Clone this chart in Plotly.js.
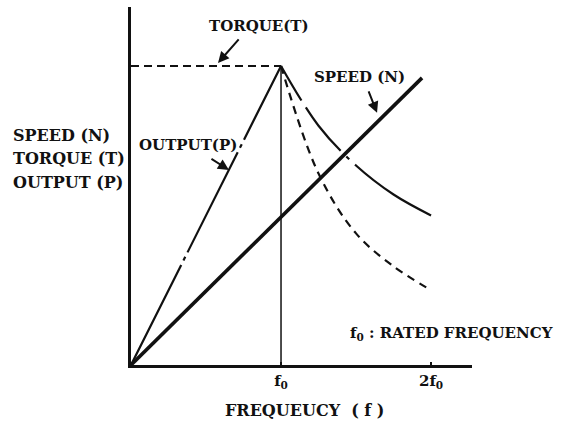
<!DOCTYPE html>
<html>
<head>
<meta charset="utf-8">
<script src="https://cdn.plot.ly/plotly-3.0.1.min.js"></script>
<style>
  html, body { margin: 0; padding: 0; background: #fff; }
  #chart { width: 580px; height: 421px; }
</style>
</head>
<body>
<div id="chart"></div>
<script>
// Frequency in units of the rated frequency f0; quantities normalised to their value at f0.
const riseFreq = [0, 1];
const riseOutput = [0, 1];
const riseSpeed = [0, 1.94];
const speedValues = [0, 0.96];

const torqueFlatFreq = [0, 1];
const torqueFlat = [1, 1];

const fallFreq = [1, 1.25, 1.5, 1.75, 2];
const fallOutput = [1, 0.8, 0.667, 0.57, 0.5];
const fallTorque = [1, 0.64, 0.44, 0.33, 0.25];

const ratedLineFreq = [1, 1];
const ratedLineValue = [0, 1];

const tickValues = [1, 2];
const tickLabels = ['f<sub>0</sub>', '2f<sub>0</sub>'];

const FONT = 'DejaVu Serif';
const INK = '#111';

const traces = [
  { x: ratedLineFreq, y: ratedLineValue, mode: 'lines',
    line: { color: INK, width: 1.5 } },
  { x: torqueFlatFreq, y: torqueFlat, mode: 'lines',
    line: { color: INK, width: 2, dash: '8px,5px' } },
  { x: fallFreq, y: fallTorque, mode: 'lines',
    line: { color: INK, width: 2.2, dash: '8px,6px', shape: 'spline' } },
  { x: riseFreq, y: riseOutput, mode: 'lines',
    line: { color: INK, width: 2.2, dash: '112px,5px,4px,5px' } },
  { x: fallFreq, y: fallOutput, mode: 'lines',
    line: { color: INK, width: 2.2, dash: '40px,8px,56px,8px,4px,8px,200px', shape: 'spline' } },
  { x: riseSpeed, y: speedValues, mode: 'lines',
    line: { color: INK, width: 3.6 } }
];

// Labels are placed in paper space so the ones beside the axes are not hidden.
const txt = (x, y, text, size, xanchor) => ({
  x, y, text, xref: 'paper', yref: 'paper', showarrow: false,
  xanchor: xanchor || 'left', yanchor: 'middle',
  font: { family: FONT, size: size, color: INK, weight: 'bold' }
});
const arrow = (x, y, ax, ay) => ({
  x, y, ax, ay, text: '', xref: 'x', yref: 'y',
  showarrow: true, arrowhead: 2, arrowsize: 1.1, arrowwidth: 2, arrowcolor: INK
});

const layout = {
  width: 580, height: 421,
  margin: { l: 131, r: 108, t: 7, b: 56 },
  paper_bgcolor: '#fff', plot_bgcolor: '#fff',
  showlegend: false,
  font: { family: FONT, color: INK },
  xaxis: {
    range: [0, 2.273], showgrid: false, zeroline: false,
    showline: true, linewidth: 3, linecolor: INK,
    tickvals: tickValues, ticktext: tickLabels,
    ticks: 'inside', ticklen: 3, tickwidth: 2, tickcolor: INK,
    tickfont: { family: FONT, size: 15, color: INK, weight: 'bold' }
  },
  yaxis: {
    range: [0, 1.197], showgrid: false, zeroline: false,
    showline: true, linewidth: 3, linecolor: INK,
    showticklabels: false, ticks: ''
  },
  annotations: [
    txt(-0.352, 0.642, 'SPEED (N)', 16),
    txt(-0.352, 0.578, 'TORQUE (T)', 16),
    txt(-0.352, 0.511, 'OUTPUT (P)', 16),
    txt(0.223, 0.948, 'TORQUE(T)', 15),
    txt(0.018, 0.615, 'OUTPUT(P)', 15),
    txt(0.531, 0.804, 'SPEED (N)', 15),
    txt(0.636, 0.089, 'f<sub>0</sub> : RATED FREQUENCY', 15),
    txt(0.510, -0.128, 'FREQUEUCY  ( f )', 16, 'center'),
    arrow(0.58, 1.01, 22, -25),
    arrow(0.653, 0.652, -19, -12),
    arrow(1.64, 0.843, -9, -23)
  ]
};

Plotly.newPlot('chart', traces, layout, { staticPlot: true, displayModeBar: false });
</script>
</body>
</html>
